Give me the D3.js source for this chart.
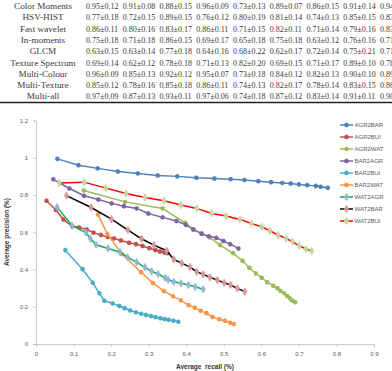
<!DOCTYPE html>
<html>
<head>
<meta charset="utf-8">
<script src="https://cdn.jsdelivr.net/npm/d3@7"></script>
<style>
  body { margin: 0; background: #fff; }
  svg { display: block; }
  .cell { font-family: "Liberation Serif", "DejaVu Serif", serif; fill: #3a3a3a; }
  .tick text { font-family: "Liberation Sans", Arial, sans-serif; font-size: 6px; fill: #595959; }
  .legText { font-family: "Liberation Sans", Arial, sans-serif; font-size: 6px; fill: #595959; }
  .axTitle { font-family: "Liberation Sans", Arial, sans-serif; font-size: 6.5px; font-weight: bold; fill: #333; }
</style>
</head>
<body>
<div id="chart"></div>
<script>
// table above the chart (last column is cut off at the page edge)
var rowNames = ["Color Moments", "HSV-HIST", "Fast wavelet", "In-moments", "GLCM",
                "Texture Spectrum", "Multi-Colour", "Multi-Texture", "Multi-all"];
var tableRows = [
  ["0.95±0.12", "0.91±0.08", "0.88±0.15", "0.96±0.09", "0.73±0.13", "0.89±0.07", "0.86±0.15", "0.91±0.14", "0.94±0"],
  ["0.77±0.18", "0.72±0.15", "0.89±0.15", "0.76±0.12", "0.80±0.19", "0.81±0.14", "0.74±0.13", "0.85±0.15", "0.83±0"],
  ["0.86±0.11", "0.80±0.16", "0.83±0.17", "0.86±0.11", "0.71±0.15", "0.82±0.11", "0.71±0.14", "0.79±0.16", "0.83±0"],
  ["0.75±0.18", "0.71±0.18", "0.86±0.15", "0.69±0.17", "0.65±0.18", "0.75±0.18", "0.63±0.12", "0.76±0.16", "0.71±0"],
  ["0.63±0.15", "0.63±0.14", "0.77±0.18", "0.64±0.16", "0.68±0.22", "0.62±0.17", "0.72±0.14", "0.75±0.21", "0.71±0"],
  ["0.69±0.14", "0.62±0.12", "0.78±0.18", "0.71±0.13", "0.82±0.20", "0.69±0.15", "0.71±0.17", "0.89±0.10", "0.78±0"],
  ["0.96±0.09", "0.85±0.13", "0.92±0.12", "0.95±0.07", "0.73±0.18", "0.84±0.12", "0.82±0.13", "0.90±0.10", "0.89±0"],
  ["0.85±0.12", "0.78±0.16", "0.85±0.18", "0.86±0.11", "0.74±0.13", "0.82±0.17", "0.78±0.14", "0.83±0.15", "0.86±0"],
  ["0.97±0.09", "0.87±0.13", "0.93±0.11", "0.97±0.06", "0.74±0.18", "0.87±0.12", "0.83±0.14", "0.91±0.11", "0.90±0"]
];

// precision / recall curves
var agr2barRecall = [0.057, 0.113, 0.164, 0.218, 0.271, 0.324, 0.376, 0.427, 0.475, 0.518, 0.555, 0.592, 0.626, 0.656, 0.678, 0.700, 0.722, 0.745, 0.758, 0.777];
var agr2barPrec   = [0.994, 0.960, 0.943, 0.926, 0.916, 0.905, 0.900, 0.893, 0.889, 0.885, 0.880, 0.874, 0.869, 0.865, 0.862, 0.857, 0.853, 0.849, 0.844, 0.839];

var agr2buiRecall = [0.028, 0.053, 0.073, 0.096, 0.115, 0.135, 0.153, 0.173, 0.191, 0.208, 0.226, 0.248, 0.266, 0.284, 0.302, 0.318, 0.330, 0.342, 0.350];
var agr2buiPrec   = [0.769, 0.719, 0.668, 0.633, 0.626, 0.615, 0.598, 0.585, 0.574, 0.567, 0.556, 0.544, 0.536, 0.526, 0.514, 0.505, 0.497, 0.491, 0.487];

var agr2watRecall = [0.127, 0.237, 0.337, 0.397, 0.419, 0.441, 0.463, 0.490, 0.525, 0.550, 0.568, 0.585, 0.601, 0.616, 0.632, 0.643, 0.651, 0.661, 0.669, 0.676, 0.683, 0.690];
var agr2watPrec   = [0.824, 0.763, 0.728, 0.651, 0.615, 0.594, 0.572, 0.531, 0.487, 0.447, 0.409, 0.379, 0.356, 0.331, 0.313, 0.299, 0.284, 0.272, 0.258, 0.245, 0.232, 0.224];

var bar2agrRecall = [0.046, 0.089, 0.128, 0.166, 0.201, 0.234, 0.268, 0.299, 0.337, 0.374, 0.399, 0.419, 0.441, 0.460, 0.480, 0.499, 0.517, 0.539];
var bar2agrPrec   = [0.884, 0.835, 0.796, 0.776, 0.755, 0.740, 0.728, 0.701, 0.680, 0.660, 0.640, 0.615, 0.592, 0.578, 0.570, 0.553, 0.536, 0.513];

var bar2buiRecall = [0.078, 0.124, 0.151, 0.169, 0.182, 0.204, 0.222, 0.236, 0.251, 0.266, 0.280, 0.293, 0.306, 0.318, 0.331, 0.342, 0.353, 0.366, 0.379];
var bar2buiPrec   = [0.504, 0.401, 0.329, 0.272, 0.232, 0.218, 0.204, 0.192, 0.180, 0.170, 0.163, 0.156, 0.150, 0.144, 0.138, 0.134, 0.130, 0.125, 0.120];

var bar2watRecall = [0.165, 0.190, 0.229, 0.280, 0.311, 0.340, 0.365, 0.386, 0.406, 0.423, 0.438, 0.454, 0.470, 0.488, 0.503, 0.517, 0.527];
var bar2watPrec   = [0.695, 0.590, 0.483, 0.385, 0.328, 0.285, 0.256, 0.234, 0.209, 0.195, 0.179, 0.165, 0.145, 0.133, 0.125, 0.114, 0.107];

var wat2agrRecall = [0.056, 0.096, 0.133, 0.145, 0.160, 0.192, 0.224, 0.244, 0.268, 0.290, 0.308, 0.325, 0.344, 0.352, 0.367, 0.386, 0.406, 0.424, 0.445];
var wat2agrPrec   = [0.735, 0.635, 0.598, 0.565, 0.533, 0.513, 0.493, 0.465, 0.440, 0.412, 0.390, 0.376, 0.355, 0.345, 0.334, 0.326, 0.317, 0.307, 0.294];

var wat2barRecall = [0.081, 0.147, 0.201, 0.245, 0.281, 0.314, 0.348, 0.367, 0.388, 0.410, 0.428, 0.445, 0.463, 0.483, 0.501, 0.518, 0.536, 0.556];
var wat2barPrec   = [0.797, 0.733, 0.670, 0.612, 0.565, 0.531, 0.501, 0.454, 0.434, 0.413, 0.388, 0.374, 0.358, 0.343, 0.329, 0.317, 0.299, 0.281];

var wat2buiRecall = [0.062, 0.128, 0.186, 0.240, 0.290, 0.341, 0.386, 0.428, 0.468, 0.506, 0.543, 0.574, 0.601, 0.623, 0.645, 0.666, 0.683, 0.701, 0.719, 0.734];
var wat2buiPrec   = [0.865, 0.869, 0.837, 0.808, 0.787, 0.769, 0.746, 0.728, 0.701, 0.687, 0.669, 0.647, 0.629, 0.608, 0.585, 0.567, 0.549, 0.527, 0.510, 0.499];

var xTicks = [0, 0.1, 0.2, 0.3, 0.4, 0.5, 0.6, 0.7, 0.8, 0.9];
var yTicks = [0, 0.2, 0.4, 0.6, 0.8, 1, 1.2];

function zipSeries(rx, py) {
  return rx.map(function(r, i) { return {r: r, p: py[i]}; });
}

var series = [
  {name: "AGR2BAR", line: "#4F81BD", mark: "#4F81BD", star: true,  pts: zipSeries(agr2barRecall, agr2barPrec)},
  {name: "AGR2BUI", line: "#C0504D", mark: "#C0504D", star: true,  pts: zipSeries(agr2buiRecall, agr2buiPrec)},
  {name: "AGR2WAT", line: "#9BBB59", mark: "#9BBB59", star: true,  pts: zipSeries(agr2watRecall, agr2watPrec)},
  {name: "BAR2AGR", line: "#8064A2", mark: "#8064A2", star: true,  pts: zipSeries(bar2agrRecall, bar2agrPrec)},
  {name: "BAR2BUI", line: "#4BACC6", mark: "#4BACC6", star: true,  pts: zipSeries(bar2buiRecall, bar2buiPrec)},
  {name: "BAR2WAT", line: "#F79646", mark: "#F79646", star: true,  pts: zipSeries(bar2watRecall, bar2watPrec)},
  {name: "WAT2AGR", line: "#00B050", mark: "#95B3D7", star: false, pts: zipSeries(wat2agrRecall, wat2agrPrec)},
  {name: "WAT2BAR", line: "#000000", mark: "#D99694", star: false, pts: zipSeries(wat2barRecall, wat2barPrec)},
  {name: "WAT2BUI", line: "#FF0000", mark: "#C3D69B", star: false, pts: zipSeries(wat2buiRecall, wat2buiPrec)}
];

var W = 392, H = 371;
var svg = d3.select("#chart").append("svg")
            .attr("width", W)
            .attr("height", H);

// ---- table ----
var rowY = d3.scaleLinear().domain([0, 8]).range([9, 99.4]);
var colX = d3.scaleLinear().domain([0, 8]).range([86, 380]);

svg.selectAll("text.rowName")
   .data(rowNames)
   .enter().append("text")
   .attr("class", "cell rowName")
   .attr("x", 43)
   .attr("y", function(d, i) { return rowY(i); })
   .attr("text-anchor", "middle")
   .attr("font-size", 9.2)
   .text(function(d) { return d; });

var rowsG = svg.selectAll("g.trow")
   .data(tableRows)
   .enter().append("g").attr("class", "trow");

rowsG.selectAll("text")
   .data(function(d, i) { return d.map(function(v) { return {v: v, row: i}; }); })
   .enter().append("text")
   .attr("class", "cell")
   .attr("x", function(d, j) { return colX(j); })
   .attr("y", function(d) { return rowY(d.row); })
   .attr("font-size", 8)
   .text(function(d) { return d.v; });

svg.append("line")
   .attr("x1", 0).attr("x2", W)
   .attr("y1", 102.5).attr("y2", 102.5)
   .attr("stroke", "#222")
   .attr("stroke-width", 1.3);

// ---- chart ----
var x = d3.scaleLinear().domain([0, 0.9]).range([36, 374]);
var y = d3.scaleLinear().domain([0, 1.2]).range([344, 120.5]);

svg.append("g")
   .attr("transform", "translate(0,344)")
   .call(d3.axisBottom(x).tickValues(xTicks).tickSize(3).tickPadding(5)
         .tickFormat(function(d) { return d === 0 ? "0" : d3.format(".1f")(d); }));
svg.append("g")
   .attr("transform", "translate(36,0)")
   .call(d3.axisLeft(y).tickValues(yTicks).tickSize(3).tickPadding(5)
         .tickFormat(function(d) { return (d === 0 || d === 1) ? String(d) : d3.format(".1f")(d); }));
svg.selectAll(".domain, .tick line").attr("stroke", "#bfbfbf").attr("stroke-width", 0.8);

var line = d3.line()
   .x(function(d) { return x(d.r); })
   .y(function(d) { return y(d.p); });

var starSym = d3.symbol().type(d3.symbolAsterisk).size(14);
var diaSym = d3.symbol().type(d3.symbolDiamond).size(17);

var sG = svg.selectAll("g.series")
   .data(series)
   .enter().append("g").attr("class", "series");

sG.append("path")
   .attr("d", function(d) { return line(d.pts); })
   .attr("fill", "none")
   .attr("stroke", function(d) { return d.line; })
   .attr("stroke-width", 1.5);

sG.each(function(s) {
  d3.select(this).selectAll("path.mk")
    .data(s.pts)
    .enter().append("path")
    .attr("class", "mk")
    .attr("transform", function(d) { return "translate(" + x(d.r) + "," + y(d.p) + ")"; })
    .attr("d", s.star ? starSym : diaSym)
    .attr("fill", s.star ? "none" : s.mark)
    .attr("stroke", s.mark)
    .attr("stroke-width", s.star ? 1.9 : 0.6);
});

// ---- legend ----
var leg = svg.selectAll("g.leg")
   .data(series)
   .enter().append("g")
   .attr("class", "leg")
   .attr("transform", function(d, i) { return "translate(340," + (125 + i * 12) + ")"; });
leg.append("line")
   .attr("x1", 0).attr("x2", 13)
   .attr("stroke", function(d) { return d.line; })
   .attr("stroke-width", 1.5);
leg.append("path")
   .attr("transform", "translate(6.5,0)")
   .attr("d", function(d) { return d.star ? starSym() : diaSym(); })
   .attr("fill", function(d) { return d.star ? "none" : d.mark; })
   .attr("stroke", function(d) { return d.mark; })
   .attr("stroke-width", function(d) { return d.star ? 1.9 : 0.6; });
leg.append("text")
   .attr("class", "legText")
   .attr("x", 14.5)
   .attr("y", 2.2)
   .text(function(d) { return d.name; });

// ---- axis titles ----
svg.append("text")
   .attr("class", "axTitle")
   .attr("x", 205).attr("y", 369)
   .attr("text-anchor", "middle")
   .attr("xml:space", "preserve")
   .text("Average  recall (%)");
svg.append("text")
   .attr("class", "axTitle")
   .attr("transform", "translate(9,232) rotate(-90)")
   .attr("text-anchor", "middle")
   .text("Average precision (%)");
</script>
</body>
</html>
